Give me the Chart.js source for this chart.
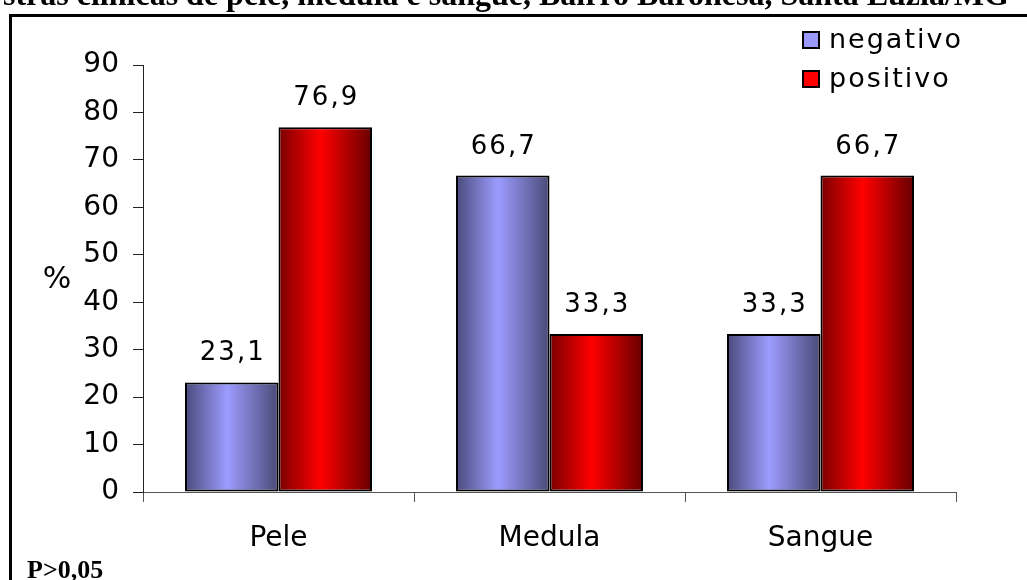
<!DOCTYPE html>
<html>
<head>
<meta charset="utf-8">
<script src="https://cdn.jsdelivr.net/npm/chart.js@4/dist/chart.umd.min.js"></script>
<style>
  html, body { margin: 0; padding: 0; background: #fff; }
  canvas { display: block; }
</style>
</head>
<body>
<canvas id="chart" width="1027" height="580"></canvas>
<script>
// ---- Data ----------------------------------------------------
const categories   = ['Pele', 'Medula', 'Sangue'];
const negativoVals = [23.1, 66.7, 33.3];
const positivoVals = [76.9, 33.3, 66.7];
const seriesNames  = ['negativo', 'positivo'];
const yTicks       = [0, 10, 20, 30, 40, 50, 60, 70, 80, 90];
const titleText    = 'stras clínicas de pele, medula e sangue, Bairro Baronesa, Santa Luzia/MG';
const noteText     = 'P>0,05';

const FONT = '"DejaVu Sans", Verdana, sans-serif';
const SERIF = '"Liberation Serif", "Times New Roman", serif';

// edge / centre colours for the shaded bars
const shades = [
  { edge: '#4a4a7c', mid: '#9c9cff', edge2: '#4a4a78', swatch: '#9999ff' },
  { edge: '#7a0000', mid: '#ff0000', edge2: '#660000', swatch: '#ff0000' }
];

function barFill(ctx) {
  const s = shades[ctx.datasetIndex];
  const el = ctx.element;
  if (!el || el.x === undefined || isNaN(el.x) || !el.width) return s.mid;
  const x0 = el.x - el.width / 2, x1 = el.x + el.width / 2;
  const g = ctx.chart.ctx.createLinearGradient(x0, 0, x1, 0);
  g.addColorStop(0, s.edge);
  g.addColorStop(0.45, s.mid);
  g.addColorStop(1, s.edge2);
  return g;
}

function fmt(v) { return v.toFixed(1).replace('.', ','); }

// ---- Extra drawing: frame, title, labels, legend ----------------
const decorations = {
  id: 'decorations',
  beforeDraw(chart) {
    const c = chart.ctx;
    c.save();
    c.fillStyle = '#fff';
    c.fillRect(0, 0, chart.width, chart.height);
    // outer frame
    c.strokeStyle = '#000';
    c.lineWidth = 3;
    c.beginPath();
    c.moveTo(10.5, 600);
    c.lineTo(10.5, 15.5);
    c.lineTo(1040, 15.5);
    c.stroke();
    // clipped title
    c.fillStyle = '#000';
    c.font = 'bold 32px ' + SERIF;
    c.textAlign = 'left';
    c.textBaseline = 'alphabetic';
    c.fillText(titleText, 3, 5);
    // footnote
    c.font = 'bold 26px ' + SERIF;
    c.fillText(noteText, 27, 578);
    // y-axis title
    c.font = '30px ' + FONT;
    c.textAlign = 'center';
    c.textBaseline = 'middle';
    c.fillText('%', 57, 280);
    c.restore();
  },
  afterDatasetsDraw(chart) {
    const c = chart.ctx;
    c.save();
    c.fillStyle = '#000';
    c.font = '26px ' + FONT;
    c.letterSpacing = '2px';
    c.textAlign = 'center';
    c.textBaseline = 'alphabetic';
    chart.data.datasets.forEach((ds, di) => {
      chart.getDatasetMeta(di).data.forEach((el, i) => {
        c.fillText(fmt(ds.data[i]), el.x + 1, el.y - 22);
      });
    });
    // legend
    c.font = '27px ' + FONT;
    c.letterSpacing = '2px';
    c.textAlign = 'left';
    c.textBaseline = 'middle';
    chart.data.datasets.forEach((ds, di) => {
      const y = 40 + di * 39;
      c.fillStyle = shades[di].swatch;
      c.fillRect(803, y - 8, 16, 16);
      c.strokeStyle = '#000';
      c.lineWidth = 2;
      c.strokeRect(803, y - 8, 16, 16);
      c.fillStyle = '#000';
      c.fillText(ds.label, 829, y + 1);
    });
    c.restore();
  }
};

const barStyle = {
  backgroundColor: barFill,
  borderColor: '#000',
  borderWidth: 2,
  borderSkipped: false,
  categoryPercentage: 0.69,
  barPercentage: 1.0
};

const chart = new Chart(document.getElementById('chart'), {
  type: 'bar',
  data: {
    labels: categories,
    datasets: [
      Object.assign({ label: seriesNames[0], data: negativoVals }, barStyle),
      Object.assign({ label: seriesNames[1], data: positivoVals }, barStyle)
    ]
  },
  options: {
    responsive: false,
    animation: false,
    events: [],
    layout: { padding: { left: 0, right: 71, top: 65, bottom: 0 } },
    scales: {
      x: {
        grid: { display: true, offset: true, drawOnChartArea: false, drawTicks: true, tickLength: 10, color: '#555', lineWidth: 1 },
        border: { display: true, color: '#555', width: 1 },
        ticks: { color: '#000', font: { family: FONT, size: 28 }, padding: 20 },
        afterFit(scale) { scale.height = 88; }
      },
      y: {
        min: 0,
        max: 90,
        afterBuildTicks(scale) { scale.ticks = yTicks.map(v => ({ value: v })); },
        grid: { display: true, drawOnChartArea: false, drawTicks: true, tickLength: 10, color: '#222', lineWidth: 1 },
        border: { display: true, color: '#222', width: 1 },
        ticks: { color: '#000', font: { family: FONT, size: 28 }, padding: 14 },
        afterFit(scale) { scale.width = 143; }
      }
    },
    plugins: {
      colors: { enabled: false },
      legend: { display: false },
      tooltip: { enabled: false },
      title: { display: false }
    }
  },
  plugins: [decorations]
});

// second pass so the gradients can use the laid-out bar positions
chart.update();
</script>
</body>
</html>
